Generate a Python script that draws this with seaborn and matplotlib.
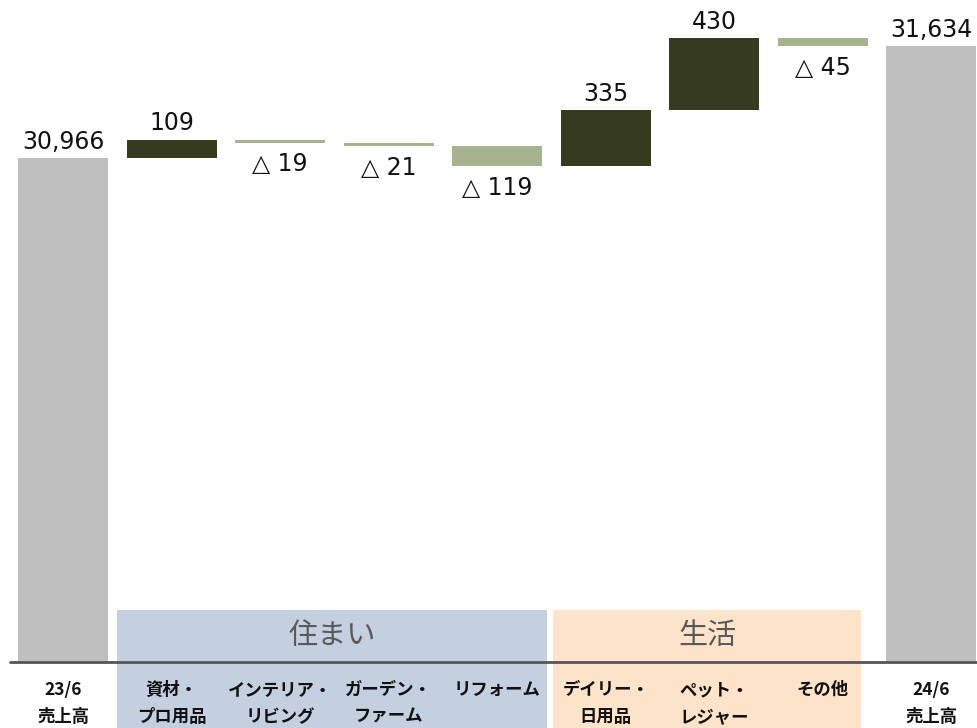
import matplotlib
matplotlib.use("Agg")
import matplotlib.pyplot as plt
import seaborn as sns
import pandas as pd
import numpy as np
from matplotlib.patches import Rectangle
from matplotlib.transforms import blended_transform_factory

sns.set_style("white")
plt.rcParams['font.family'] = ['DejaVu Sans', 'Noto Sans CJK JP']

categories = ["23/6\n売上高", "資材・\nプロ用品", "インテリア・\nリビング", "ガーデン・\nファーム",
              "リフォーム", "デイリー・\n日用品", "ペット・\nレジャー", "その他", "24/6\n売上高"]
values = [30966, 109, -19, -21, -119, 335, 430, -45, 31634]
kinds = ["total", "delta", "delta", "delta", "delta", "delta", "delta", "delta", "total"]
groups = ["住まい", "生活"]

# waterfall bottoms
bottoms = []
running = 0
for v, k in zip(values, kinds):
    if k == "total":
        bottoms.append(0)
        running = v
    else:
        bottoms.append(running)
        running += v

c_total = "#bfbfbf"
c_up = "#363b20"
c_down = "#a6b38e"
colors = [c_total if k == "total" else (c_up if v > 0 else c_down) for v, k in zip(values, kinds)]

df = pd.DataFrame({"cat": [str(i) for i in range(len(values))], "val": values})

W, H = 977, 728
fig = plt.figure(figsize=(W / 100, H / 100), dpi=100)
ax = fig.add_axes([10 / W, (H - 662) / H, 967 / W, 662 / H])
ax.set_zorder(2)
ax.patch.set_alpha(0)

ymin, ymax = 27950, 31910

sns.barplot(data=df, x="cat", y="val", color=c_total, width=0.83,
            bottom=bottoms, ax=ax, linewidth=0, saturation=1, errorbar=None)
for p, c in zip(ax.patches, colors):
    p.set_facecolor(c)
ax.set_xlim(-0.49, 8.42)
ax.set_ylim(ymin, ymax)

# baseline
ax.axhline(ymin, color="#555555", lw=2, clip_on=False, zorder=5)

for s in ax.spines.values():
    s.set_visible(False)
ax.set_xticks([])
ax.set_yticks([])
ax.set_xlabel("")
ax.set_ylabel("")

# value labels
for i, (v, k, b) in enumerate(zip(values, kinds, bottoms)):
    if k == "total":
        ax.annotate(f"{v:,}", (i, v), xytext=(0, 3), textcoords="offset points",
                    ha="center", va="bottom", fontsize=17, color="#111111")
    elif v > 0:
        ax.annotate(f"{v:,}", (i, b + v), xytext=(0, 3), textcoords="offset points",
                    ha="center", va="bottom", fontsize=17, color="#111111")
    else:
        ax.annotate(f"△ {abs(v):,}", (i, b + v), xytext=(0, -7), textcoords="offset points",
                    ha="center", va="top", fontsize=17, color="#111111")

# group boxes
tr = blended_transform_factory(ax.transData, fig.transFigure)
box_cols = ["#c4cfdf", "#fce3c9"]
box_edges = [(0.5, 4.455), (4.515, 7.355)]
for (x0, x1), gname, col in zip(box_edges, groups, box_cols):
    fig.patches.append(Rectangle((x0, 0), x1 - x0, (H - 610) / H, transform=tr,
                                 facecolor=col, edgecolor="none", zorder=0))
    ax.text((x0 + x1) / 2, (H - 636) / H, gname, transform=tr, ha="center", va="center",
            fontsize=21, color="#595959", family=["Noto Sans CJK JP"])

# category labels
for i, lab in enumerate(categories):
    lines = lab.split("\n")
    for j, line in enumerate(lines):
        ax.text(i, (H - 690 - 27 * j) / H, line, transform=tr, ha="center", va="center",
                fontsize=12.5, fontweight="bold", color="#111111", family=["Noto Sans CJK JP"])

fig.savefig("out.png", dpi=100)
